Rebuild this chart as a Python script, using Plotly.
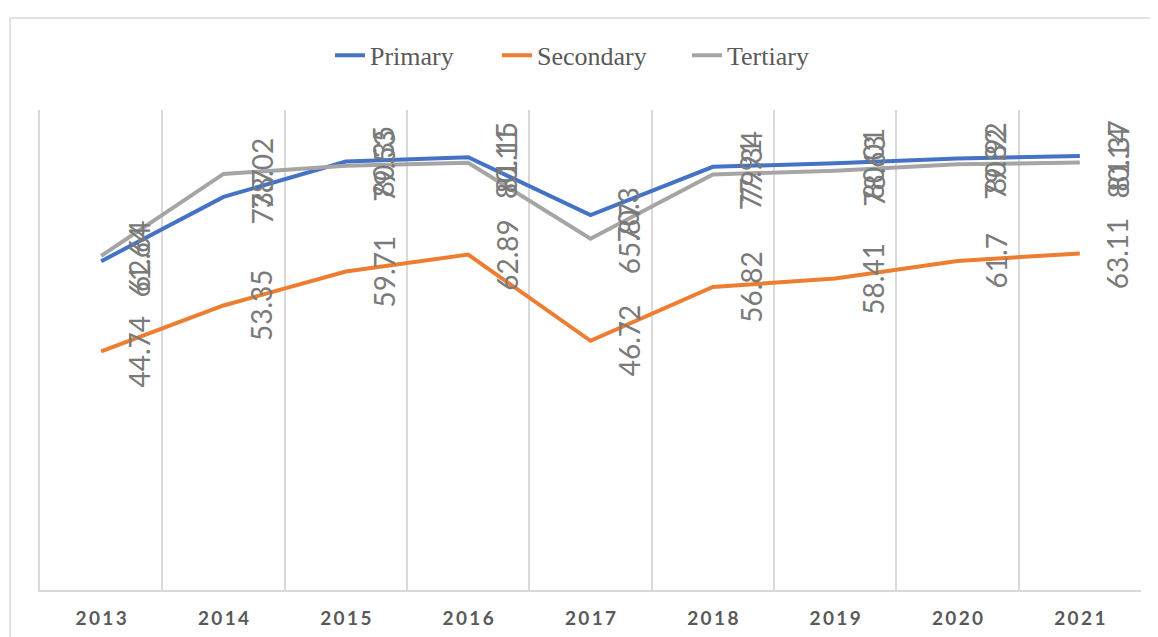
import plotly.graph_objects as go

years = ["2013", "2014", "2015", "2016", "2017", "2018", "2019", "2020", "2021"]
primary = [61.64, 73.7, 80.35, 81.15, 70.3, 79.34, 80.01, 80.92, 81.37]
secondary = [44.74, 53.35, 59.71, 62.89, 46.72, 56.82, 58.41, 61.7, 63.11]
tertiary = [62.64, 78.02, 79.53, 80.11, 65.87, 77.91, 78.63, 79.82, 80.14]

series = [("Primary", primary, "#4472C4", 122),
          ("Secondary", secondary, "#ED7D31", 145),
          ("Tertiary", tertiary, "#A5A5A5", 84)]

xpos = list(range(len(years)))

fig = go.Figure()
for name, vals, col, lw in series:
    fig.add_trace(go.Scatter(x=xpos, y=vals, mode="lines", name=name,
                             legendwidth=lw,
                             line=dict(color=col, width=4)))

annotations = []
for name, vals, col, lw in series:
    for x, v in zip(xpos, vals):
        annotations.append(dict(x=x, y=v, xref="x", yref="y", text=str(v),
                                showarrow=False, textangle=-90, xshift=38,
                                font=dict(family="Lato", size=28, color="#7A7A7A")))

ticktext = ["\u2009".join(y) for y in years]

fig.update_layout(
    width=1150, height=629,
    margin=dict(l=32, r=17, t=102, b=47, autoexpand=False),
    paper_bgcolor="white", plot_bgcolor="white",
    showlegend=True,
    legend=dict(orientation="h", x=0.2634, xanchor="left", y=1.114, yanchor="middle",
                font=dict(family="Liberation Serif", size=26, color="#595959"),
                bgcolor="rgba(0,0,0,0)"),
    xaxis=dict(range=[-0.5, 8.5], tickmode="array", tickvals=xpos, ticktext=ticktext,
               automargin=False,
               showgrid=False, zeroline=False, showline=True, linecolor="#D9D9D9", linewidth=1.5,
               ticks="outside", ticklen=10, tickcolor="rgba(0,0,0,0)",
               tickfont=dict(family="Lato", size=19, color="#595959", weight="bold"),
               minor=dict(tickmode="array", tickvals=[i + 0.5 for i in xpos],
                          showgrid=True, gridcolor="#D9D9D9", gridwidth=1.5, ticks="")),
    yaxis=dict(range=[0, 90], showgrid=False, zeroline=False, showticklabels=False,
               automargin=False,
               showline=True, linecolor="#D9D9D9", linewidth=1.5, ticks=""),
    annotations=annotations,
    shapes=[dict(type="rect", xref="paper", yref="paper", x0=-0.0272, x1=1.2,
                 y0=-0.3, y1=1.1917, line=dict(color="#D9D9D9", width=1.5),
                 fillcolor="rgba(0,0,0,0)", layer="below")],
)

fig.write_html("out.html")
